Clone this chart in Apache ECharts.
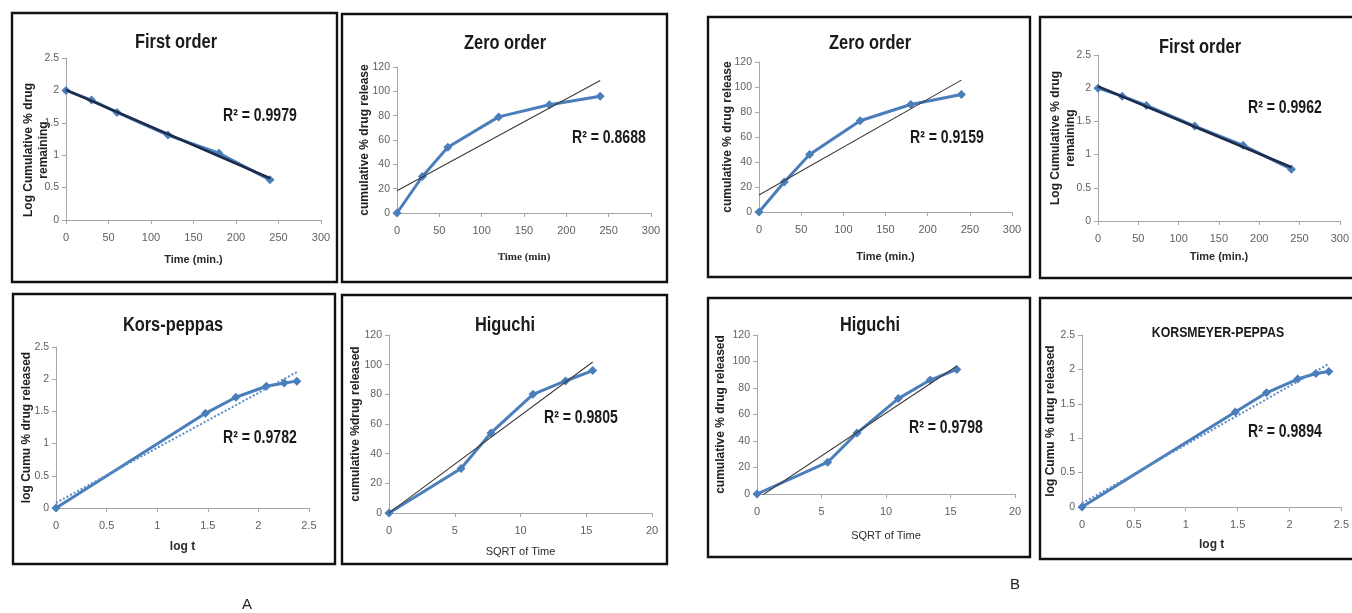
<!DOCTYPE html>
<html><head><meta charset="utf-8">
<script src="https://cdn.jsdelivr.net/npm/echarts@6/dist/echarts.min.js"></script>
<style>html,body{margin:0;padding:0;background:#fff}#c{width:1352px;height:613px}</style>
</head><body><div id="c"></div>
<script>
// ---------- data ----------
const timeMin = [0, 30, 60, 120, 180, 240];
const sqrtTime = [0, 5.48, 7.75, 10.95, 13.42, 15.49];
const logTime = [0, 1.477, 1.778, 2.079, 2.255, 2.380];

const firstOrderA = [2.0, 1.85, 1.66, 1.31, 1.03, 0.62];
const zeroOrderA = [0, 30, 54, 79, 89, 96];
const korsPeppasA = [0, 1.47, 1.72, 1.89, 1.94, 1.97];
const higuchiA = [0, 30, 54, 80, 89, 96];

const zeroOrderB = [0, 24, 46, 73, 86, 94];
const firstOrderB = [2.0, 1.88, 1.74, 1.43, 1.14, 0.78];
const higuchiB = [0, 24, 46, 72, 86, 94];
const korsPeppasB = [0, 1.38, 1.66, 1.86, 1.94, 1.97];

const panelTitles = ['First order', 'Zero order', 'Zero order', 'First order', 'Kors-peppas', 'Higuchi', 'Higuchi', 'KORSMEYER-PEPPAS'];
const r2Labels = ['R² = 0.9979', 'R² = 0.8688', 'R² = 0.9159', 'R² = 0.9962', 'R² = 0.9782', 'R² = 0.9805', 'R² = 0.9798', 'R² = 0.9894'];
const xNames = ['Time (min.)', 'Time (min)', 'Time (min.)', 'Time (min.)', 'log t', 'SQRT of Time', 'SQRT of Time', 'log t'];
const yNames = ['Log Cumulative % drug\nremaining', 'cumulative % drug release', 'cumulative % drug release', 'Log Cumulative % drug\nremaining',
                'log Cumu % drug released', 'cumulative %drug released', 'cumulative % drug released', 'log Cumu % drug released'];
const figureLetters = ['A', 'B'];

// ---------- layout ----------
const SANS = "'Liberation Sans', Arial, sans-serif";
const SERIF = "'Liberation Serif', 'Times New Roman', serif";

const xScales = {
  time: {min: 0, max: 300, interval: 50},
  sqrt: {min: 0, max: 20, interval: 5},
  log:  {min: 0, max: 2.5, interval: 0.5}
};
const yScales = {
  log: {min: 0, max: 2.5, interval: 0.5},
  pct: {min: 0, max: 120, interval: 20}
};
const trendStyles = {
  bold:   {color: '#1d2b4a', width: 2.6, type: 'solid'},
  thin:   {color: '#3a3a3a', width: 1.1, type: 'solid'},
  dotted: {color: '#5b8bc6', width: 2, type: 'dotted'}
};
const xNameStyles = [
  {fontFamily: SANS, fontWeight: 'bold', fontSize: 11},
  {fontFamily: SERIF, fontWeight: 'bold', fontSize: 11},
  {fontFamily: SANS, fontWeight: 'bold', fontSize: 11},
  {fontFamily: SANS, fontWeight: 'bold', fontSize: 11},
  {fontFamily: SANS, fontWeight: 'bold', fontSize: 12},
  {fontFamily: SANS, fontWeight: 'normal', fontSize: 11},
  {fontFamily: SANS, fontWeight: 'normal', fontSize: 11},
  {fontFamily: SANS, fontWeight: 'bold', fontSize: 12}
];

const panels = [
  {grid: [66, 58, 255, 162], xs: timeMin, ys: firstOrderA, xk: 'time', yk: 'log', trend: 'bold',  title: [176, 42],  r2: [223, 116], xGap: 34, yGap: 15, yShift: 22, box: [12, 13, 325, 269]},
  {grid: [397, 67, 254, 146], xs: timeMin, ys: zeroOrderA,  xk: 'time', yk: 'pct', trend: 'thin',  title: [505, 43],  r2: [572, 138], xGap: 39, yGap: 25, yShift: 0, box: [342, 14, 325, 268]},
  {grid: [759, 62, 253, 150], xs: timeMin, ys: zeroOrderB,  xk: 'time', yk: 'pct', trend: 'thin',  title: [870, 43],  r2: [910, 138], xGap: 39, yGap: 24, yShift: 0, box: [708, 17, 322, 260]},
  {grid: [1098, 55, 245, 166], xs: timeMin, ys: firstOrderB, xk: 'time', yk: 'log', trend: 'bold', title: [1200, 47], r2: [1248, 108], xGap: 30, yGap: 20, yShift: 0, box: [1040, 17, 330, 261]},
  {grid: [56, 347, 253, 161], xs: logTime, ys: korsPeppasA,  xk: 'log', yk: 'log', trend: 'dotted', title: [173, 325], r2: [223, 438], xGap: 33, yGap: 22, yShift: 0, box: [13, 294, 322, 270]},
  {grid: [389, 335, 263, 178], xs: sqrtTime, ys: higuchiA,   xk: 'sqrt', yk: 'pct', trend: 'thin', title: [505, 325], r2: [544, 418], xGap: 33, yGap: 26, yShift: 0, box: [342, 295, 325, 269]},
  {grid: [757, 335, 258, 159], xs: sqrtTime, ys: higuchiB,   xk: 'sqrt', yk: 'pct', trend: 'thin', title: [870, 325], r2: [909, 428], xGap: 36, yGap: 29, yShift: 0, box: [708, 298, 322, 259]},
  {grid: [1082, 335, 268, 172], xs: logTime, ys: korsPeppasB, xk: 'log', yk: 'log', trend: 'dotted', title: [1218, 333], r2: [1248, 432], xGap: 32, yGap: 24, yShift: 0, box: [1040, 298, 330, 261]}
];
const titleSizes = [20, 20, 20, 20, 20, 20, 20, 15];

function linFit(xs, ys) {
  const n = xs.length;
  const mx = xs.reduce((a, b) => a + b, 0) / n;
  const my = ys.reduce((a, b) => a + b, 0) / n;
  let sxy = 0, sxx = 0;
  for (let i = 0; i < n; i++) { sxy += (xs[i] - mx) * (ys[i] - my); sxx += (xs[i] - mx) ** 2; }
  const b = sxy / sxx, a = my - b * mx;
  const x0 = Math.min(...xs), x1 = Math.max(...xs);
  return [[x0, a + b * x0], [x1, a + b * x1]];
}

const axisColor = '#a6a6a6';
const labelColor = '#5f5f5f';
const blue = '#4a7ebb';

const grid = [], xAxis = [], yAxis = [], series = [], graphic = [];

panels.forEach((p, i) => {
  grid.push({left: p.grid[0], top: p.grid[1], width: p.grid[2], height: p.grid[3], containLabel: false});
  xAxis.push(Object.assign({
    type: 'value', gridIndex: i,
    name: xNames[i], nameLocation: 'middle', nameGap: p.xGap, nameMoveOverlap: false,
    nameTextStyle: Object.assign({color: '#2b2b2b'}, xNameStyles[i]),
    axisLine: {show: true, onZero: false, lineStyle: {color: axisColor, width: 1}},
    axisTick: {show: true, length: 4, lineStyle: {color: axisColor}},
    axisLabel: {color: labelColor, fontFamily: SANS, fontSize: 11, margin: 12},
    splitLine: {show: false}
  }, xScales[p.xk]));
  yAxis.push(Object.assign({
    type: 'value', gridIndex: i,
    name: yNames[i], nameLocation: 'middle', nameGap: p.yGap, nameRotate: 90, nameMoveOverlap: false,
    nameTextStyle: {color: '#222', fontFamily: SANS, fontWeight: 'bold', fontSize: 12, lineHeight: 15,
      padding: p.yShift ? [0, p.yShift, 0, 0] : 0},
    axisLine: {show: true, lineStyle: {color: axisColor, width: 1}},
    axisTick: {show: true, length: 4, lineStyle: {color: axisColor}},
    axisLabel: {color: labelColor, fontFamily: SANS, fontSize: 10.5, margin: 7},
    splitLine: {show: false}
  }, yScales[p.yk]));

  const pts = p.xs.map((x, k) => [x, p.ys[k]]);
  series.push({
    type: 'line', xAxisIndex: i, yAxisIndex: i, data: pts,
    symbol: 'diamond', symbolSize: 9, showSymbol: true,
    lineStyle: {color: blue, width: 3}, itemStyle: {color: blue},
    animation: false, z: 2
  });
  const ts = trendStyles[p.trend];
  series.push({
    type: 'line', xAxisIndex: i, yAxisIndex: i, data: linFit(p.xs, p.ys),
    symbol: 'none', lineStyle: {color: ts.color, width: ts.width, type: ts.type},
    animation: false, z: 3, silent: true
  });

  graphic.push({type: 'rect', shape: {x: p.box[0], y: p.box[1], width: p.box[2], height: p.box[3]},
    style: {fill: 'none', stroke: '#111', lineWidth: 2.4}, z: 10});
  graphic.push({type: 'text', x: p.title[0], y: p.title[1], scaleX: 0.82,
    style: {text: panelTitles[i], align: 'center', verticalAlign: 'middle', fill: '#1a1a1a',
      font: 'bold ' + titleSizes[i] + 'px ' + SANS}, z: 10});
  graphic.push({type: 'text', x: p.r2[0], y: p.r2[1], scaleX: 0.78,
    style: {text: r2Labels[i], align: 'left', verticalAlign: 'middle', fill: '#1a1a1a',
      font: 'bold 18px ' + SANS}, z: 10});
});

graphic.push({type: 'text', x: 247, y: 605, style: {text: figureLetters[0], align: 'center', verticalAlign: 'middle', fill: '#222', font: '15px ' + SANS}});
graphic.push({type: 'text', x: 1015, y: 585, style: {text: figureLetters[1], align: 'center', verticalAlign: 'middle', fill: '#222', font: '15px ' + SANS}});

const chart = echarts.init(document.getElementById('c'), null, {renderer: 'canvas'});
chart.setOption({
  backgroundColor: '#ffffff',
  animation: false,
  grid, xAxis, yAxis, series, graphic
});
</script>
</body></html>
